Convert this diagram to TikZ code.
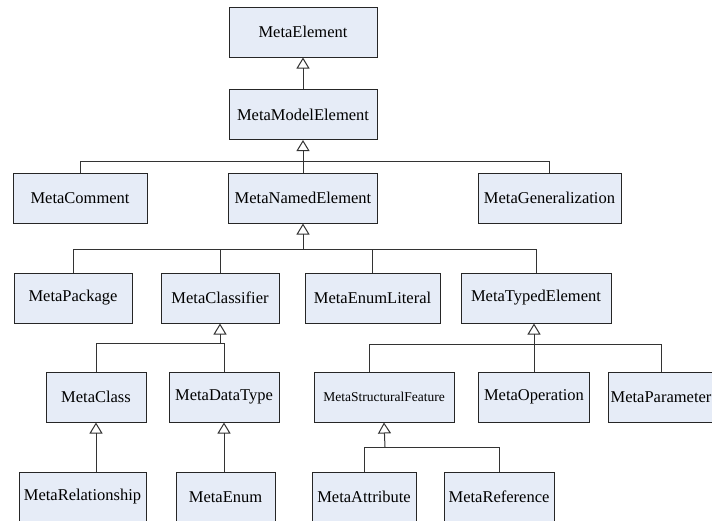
\documentclass[tikz,border=0pt]{standalone}
\usepackage{fontspec}
\setmainfont{Liberation Serif}
\usetikzlibrary{arrows.meta}
\definecolor{boxfill}{RGB}{230,236,247}
\begin{document}
\begin{tikzpicture}[x=1pt,y=-1pt]
  \tikzstyle{cls}=[draw=black!85, line width=1pt, fill=boxfill, minimum height=50pt, inner sep=2pt, font=\fontsize{16.5}{18}\selectfont]
  \tikzstyle{inh}=[draw=black!80, line width=1pt, -{Triangle[open,length=11pt,width=13pt]}]
  \tikzstyle{lnk}=[draw=black!80, line width=1pt]
  \useasboundingbox (0,0) rectangle (712,520);

  \node[cls, minimum width=148pt] (elem) at (303,32) {MetaElement};
  \node[cls, minimum width=148pt] (model) at (303,114.5) {MetaModelElement};
  \draw[inh] (model.north) -- (elem.south);

  \node[cls, minimum width=134pt] (comment) at (80,198) {MetaComment};
  \node[cls, minimum width=149pt] (named) at (303,198) {MetaNamedElement};
  \node[cls, minimum width=143pt] (gen) at (549.5,198) {MetaGeneralization};
  \coordinate (jmodel) at (303,161);
  \draw[lnk] (comment.north) |- (jmodel);
  \draw[lnk] (gen.north) |- (jmodel);
  \draw[lnk] (named.north) -- (jmodel);
  \draw[inh] (jmodel) -- (model.south);

  \node[cls, minimum width=118pt] (pkg) at (73,298) {MetaPackage};
  \node[cls, minimum width=118pt] (classifier) at (220,298) {MetaClassifier};
  \node[cls, minimum width=135pt] (enumlit) at (372.5,298) {MetaEnumLiteral};
  \node[cls, minimum width=150pt] (typed) at (536,298) {MetaTypedElement};
  \coordinate (jnamed) at (303,249);
  \draw[lnk] (pkg.north) |- (jnamed);
  \draw[lnk] (classifier.north) |- (jnamed);
  \draw[lnk] (enumlit.north) |- (jnamed);
  \draw[lnk] (typed.north) |- (jnamed);
  \draw[inh] (jnamed) -- (named.south);

  \node[cls, minimum width=100pt] (class) at (96,397) {MetaClass};
  \node[cls, minimum width=110pt] (dtype) at (224,397) {MetaDataType};
  \coordinate (jclassifier) at (220,343);
  \draw[lnk] (class.north) |- (jclassifier);
  \draw[lnk] (dtype.north) |- (jclassifier);
  \draw[inh] (jclassifier) -- (classifier.south);

  \node[cls, minimum width=140pt, font=\fontsize{13.5}{16}\selectfont] (sfeat) at (384,397) {MetaStructuralFeature};
  \node[cls, minimum width=111pt] (oper) at (534,397) {MetaOperation};
  \node[cls, minimum width=106pt] (param) at (661,397) {MetaParameter};
  \coordinate (jtyped) at (534,344);
  \draw[lnk] ([xshift=-15pt]sfeat.north) |- (jtyped);
  \draw[lnk] (param.north) |- (jtyped);
  \draw[lnk] (oper.north) -- (jtyped);
  \draw[inh] (jtyped) -- (jtyped |- typed.south);

  \node[cls, minimum width=127pt] (rel) at (82.5,497) {MetaRelationship};
  \node[cls, minimum width=99pt] (enum) at (225.5,497) {MetaEnum};
  \draw[inh] (rel.north -| class.south) -- (class.south);
  \draw[inh] (enum.north -| dtype.south) -- (dtype.south);

  \node[cls, minimum width=104pt] (attr) at (364,497) {MetaAttribute};
  \node[cls, minimum width=110pt] (ref) at (499,497) {MetaReference};
  \coordinate (jsfeat) at (385,447);
  \draw[lnk] (attr.north) |- (jsfeat);
  \draw[lnk] (ref.north) |- (jsfeat);
  \draw[inh] (jsfeat) -- (sfeat.south);
\end{tikzpicture}
\end{document}
